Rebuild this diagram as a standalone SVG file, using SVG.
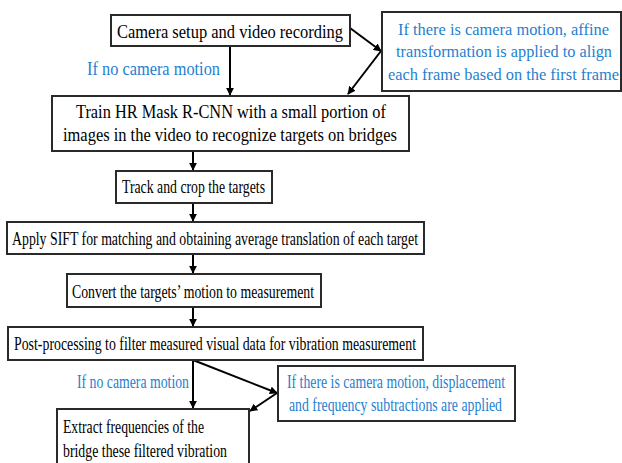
<svg xmlns="http://www.w3.org/2000/svg" width="622" height="463" viewBox="0 0 622 463">
<style>
.box{fill:#fff;stroke:#2a2a2a;stroke-width:2}
.t{font-family:"Liberation Serif","Times New Roman",serif;font-size:18px;fill:#000}
.b{font-family:"Liberation Serif","Times New Roman",serif;font-size:18px;fill:#1f7fd0}
.s{font-size:17px}
.xs{font-size:16px}
.c{stroke:#000;stroke-width:2;fill:none;marker-end:url(#ah)}
</style>
<defs>
<marker id="ah" viewBox="0 0 10 10" refX="9" refY="5" markerWidth="4" markerHeight="4" orient="auto" markerUnits="strokeWidth">
<path d="M0,0 L10,5 L0,10 z" fill="#000"/>
</marker>
</defs>
<rect width="622" height="463" fill="#fff"/>
<g id="connectors">
<line class="c" x1="230" y1="46" x2="230" y2="95"/>
<line class="c" x1="350" y1="28" x2="381" y2="51"/>
<line class="c" x1="381" y1="51" x2="348" y2="94"/>
<line class="c" x1="193" y1="151" x2="193" y2="170"/>
<line class="c" x1="193" y1="203" x2="193" y2="221"/>
<line class="c" x1="193" y1="254" x2="193" y2="273"/>
<line class="c" x1="193" y1="307" x2="193" y2="326"/>
<line class="c" x1="193" y1="360" x2="193" y2="408"/>
<line class="c" x1="193" y1="360" x2="277" y2="393"/>
<line class="c" x1="277" y1="393" x2="250" y2="411"/>
<text class="b" x="87" y="75" textLength="133" lengthAdjust="spacingAndGlyphs">If no camera motion</text>
<text class="b" x="77" y="388" textLength="112" lengthAdjust="spacingAndGlyphs">If no camera motion</text>
</g>
<g id="n1">
<rect class="box" x="111" y="15" width="239" height="31"/>
<text class="t" x="117" y="37.5" textLength="226" lengthAdjust="spacingAndGlyphs">Camera setup and video recording</text>
</g>
<g id="n1b">
<rect class="box" x="382" y="12" width="239" height="79"/>
<text class="b s" x="398" y="35" textLength="211" lengthAdjust="spacingAndGlyphs">If there is camera motion, affine</text>
<text class="b s" x="396" y="57" textLength="216" lengthAdjust="spacingAndGlyphs">transformation is applied to align</text>
<text class="b xs" x="388" y="80" textLength="231" lengthAdjust="spacingAndGlyphs">each frame based on the first frame</text>
</g>
<g id="n2">
<rect class="box" x="52" y="96" width="357" height="55"/>
<text class="t" x="76" y="118" textLength="310" lengthAdjust="spacingAndGlyphs">Train HR Mask R-CNN with a small portion of</text>
<text class="t" x="63" y="141" textLength="334" lengthAdjust="spacingAndGlyphs">images in the video to recognize targets on bridges</text>
</g>
<g id="n3">
<rect class="box" x="116" y="171" width="156" height="32"/>
<text class="t" x="122" y="193" textLength="143" lengthAdjust="spacingAndGlyphs">Track and crop the targets</text>
</g>
<g id="n4">
<rect class="box" x="7" y="222" width="417" height="32"/>
<text class="t" x="12" y="245" textLength="406" lengthAdjust="spacingAndGlyphs">Apply SIFT for matching and obtaining average translation of each target</text>
</g>
<g id="n5">
<rect class="box" x="67" y="274" width="254" height="33"/>
<text class="t" x="72" y="297.5" textLength="242" lengthAdjust="spacingAndGlyphs">Convert the targets’ motion to measurement</text>
</g>
<g id="n6">
<rect class="box" x="8" y="327" width="415" height="33"/>
<text class="t" x="14" y="349.5" textLength="402" lengthAdjust="spacingAndGlyphs">Post-processing to filter measured visual data for vibration measurement</text>
</g>
<g id="n6b">
<rect class="box" x="278" y="366" width="237" height="55"/>
<text class="b" x="287" y="388" textLength="218" lengthAdjust="spacingAndGlyphs">If there is camera motion, displacement</text>
<text class="b" x="289" y="411" textLength="213" lengthAdjust="spacingAndGlyphs">and frequency subtractions are applied</text>
</g>
<g id="n7">
<rect class="box" x="57" y="409" width="192" height="70"/>
<text class="t" x="63" y="433" textLength="141" lengthAdjust="spacingAndGlyphs">Extract frequencies of the</text>
<text class="t" x="63" y="456.5" textLength="164" lengthAdjust="spacingAndGlyphs">bridge these filtered vibration</text>
</g>
</svg>
